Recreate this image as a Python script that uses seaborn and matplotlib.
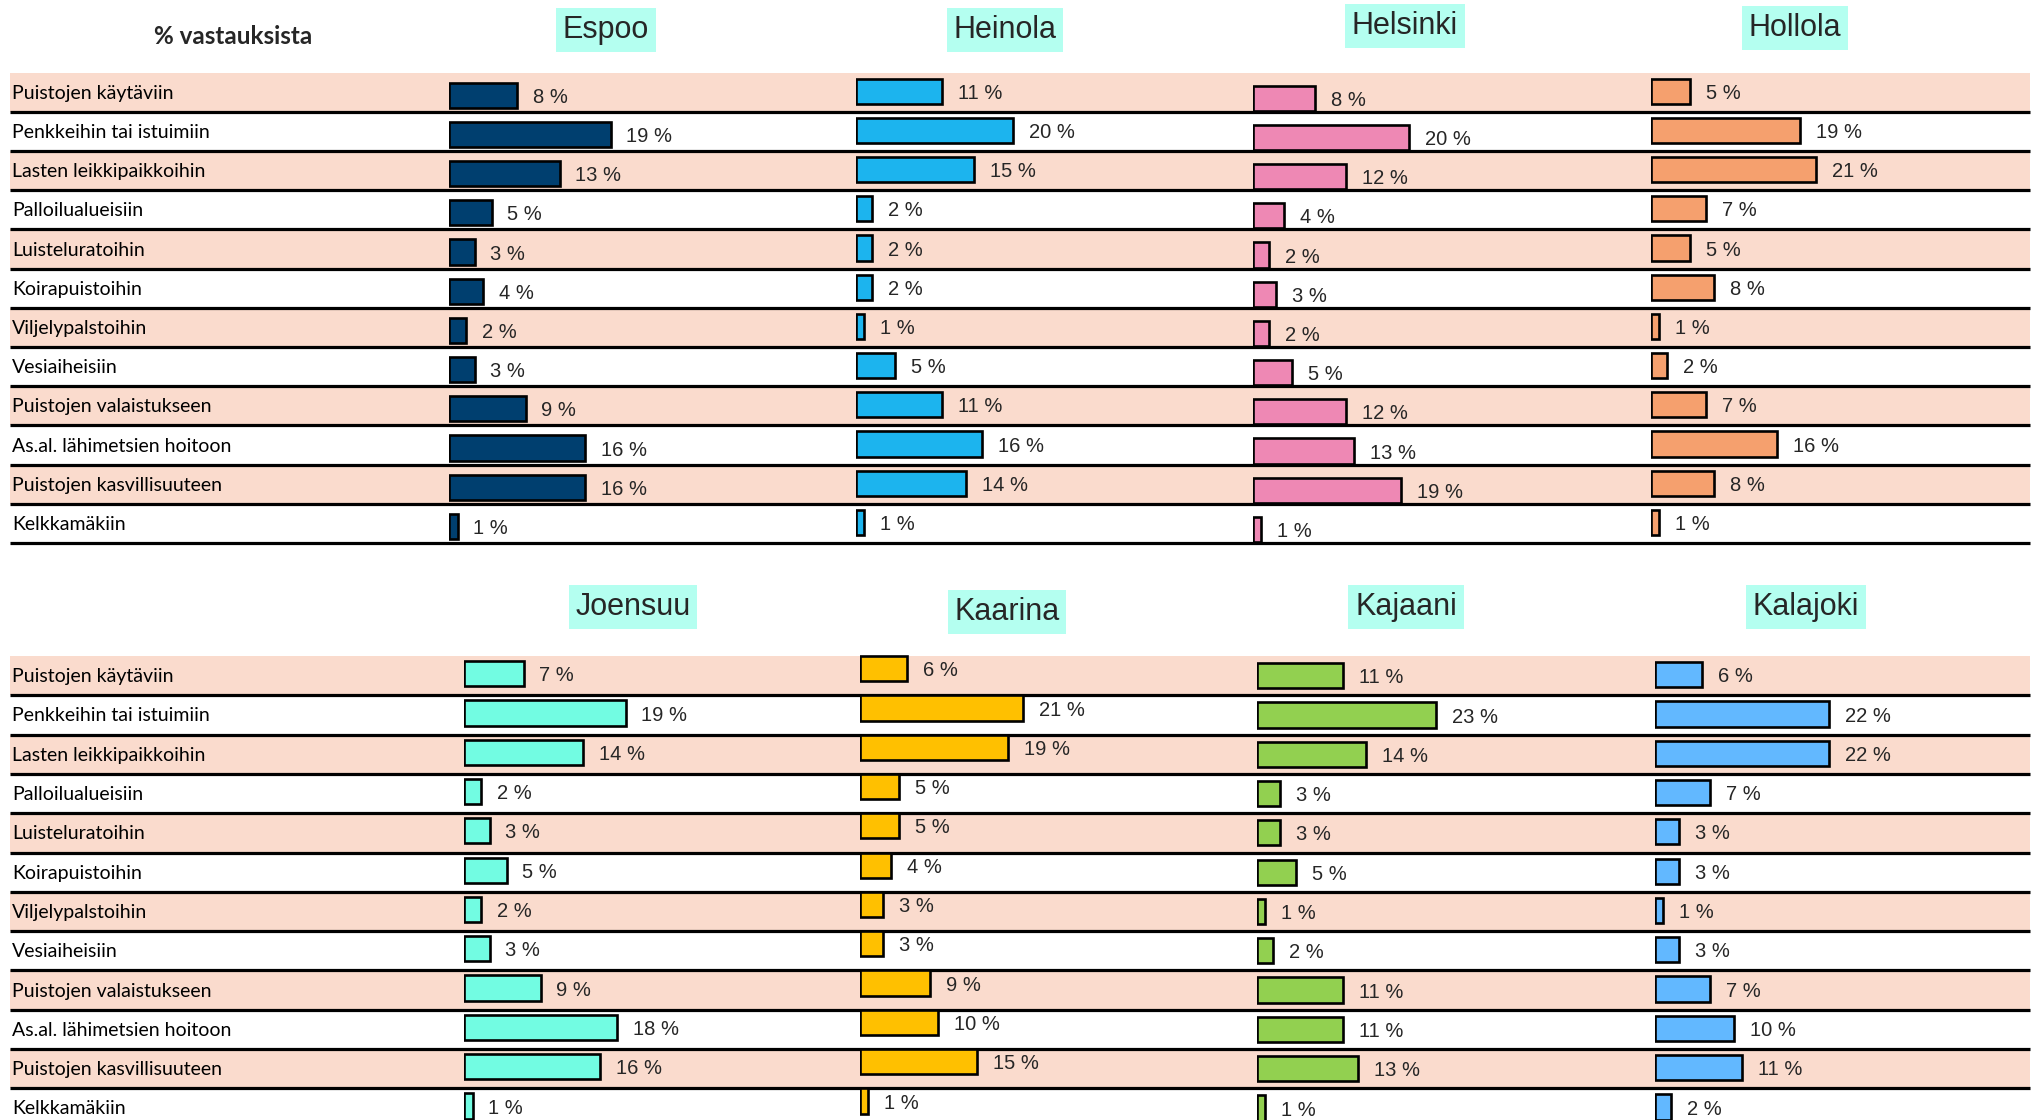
import matplotlib
matplotlib.use("Agg")
import matplotlib.pyplot as plt
from matplotlib.patches import Rectangle
import seaborn as sns
import pandas as pd

# Survey answers: where park investments should go (% of responses)
categories = [
    "Puistojen käytäviin",
    "Penkkeihin tai istuimiin",
    "Lasten leikkipaikkoihin",
    "Palloilualueisiin",
    "Luisteluratoihin",
    "Koirapuistoihin",
    "Viljelypalstoihin",
    "Vesiaiheisiin",
    "Puistojen valaistukseen",
    "As.al. lähimetsien hoitoon",
    "Puistojen kasvillisuuteen",
    "Kelkkamäkiin",
]

espoo = [8, 19, 13, 5, 3, 4, 2, 3, 9, 16, 16, 1]
heinola = [11, 20, 15, 2, 2, 2, 1, 5, 11, 16, 14, 1]
helsinki = [8, 20, 12, 4, 2, 3, 2, 5, 12, 13, 19, 1]
hollola = [5, 19, 21, 7, 5, 8, 1, 2, 7, 16, 8, 1]
joensuu = [7, 19, 14, 2, 3, 5, 2, 3, 9, 18, 16, 1]
kaarina = [6, 21, 19, 5, 5, 4, 3, 3, 9, 10, 15, 1]
kajaani = [11, 23, 14, 3, 3, 5, 1, 2, 11, 11, 13, 1]
kalajoki = [6, 22, 22, 7, 3, 3, 1, 3, 7, 10, 11, 2]

header_label = "% vastauksista"

sns.set_theme(style="white")
plt.rcParams["font.family"] = ["Liberation Sans", "DejaVu Sans"]

W, H = 2034, 1120
fig = plt.figure(figsize=(W / 100, H / 100), dpi=100)
fig.patch.set_facecolor("white")

# Background layer in pixel units for row bands, separators and row labels
bg = fig.add_axes([0, 0, 1, 1])
bg.set_xlim(0, W)
bg.set_ylim(H, 0)
bg.axis("off")

BAND = "#FADBCD"
TITLE_BOX = "#B4FFF0"
ROW_FONT = ["Lato", "DejaVu Sans"]
VAL_FONT = ["Liberation Sans", "DejaVu Sans"]


def draw_rows(top, row_h):
    for i, cat in enumerate(categories):
        y0 = top + i * row_h
        if i % 2 == 0:
            bg.add_patch(Rectangle((10, y0), 2020, row_h, color=BAND, lw=0, zorder=0))
        bg.plot([10, 2030], [y0 + row_h, y0 + row_h], color="black", lw=2.3,
                solid_capstyle="butt", zorder=1)
        bg.text(12, y0 + row_h / 2 + 1, cat, va="center", ha="left",
                fontsize=14, family=ROW_FONT, color="black", zorder=2)


TOP1, ROW1 = 72.6, 39.2
TOP2, ROW2 = 656.0, 39.3
draw_rows(TOP1, ROW1)
draw_rows(TOP2, ROW2)

bg.text(233, 37, header_label, ha="center", va="center", fontsize=17.5,
        fontweight="bold", family=ROW_FONT)

# name, values, colour, bar start x, px per %, vertical shift, title centre
panels = [
    ("Espoo", espoo, "#003F6F", 449, 8.5, 3, (606, 30), TOP1, ROW1),
    ("Heinola", heinola, "#1CB4EE", 856, 7.85, -1, (1005, 30), TOP1, ROW1),
    ("Helsinki", helsinki, "#EE88B4", 1253, 7.78, 6, (1405, 26), TOP1, ROW1),
    ("Hollola", hollola, "#F5A06E", 1651, 7.85, -1, (1795, 28), TOP1, ROW1),
    ("Joensuu", joensuu, "#72FCE2", 464, 8.5, -2, (633, 607), TOP2, ROW2),
    ("Kaarina", kaarina, "#FFC000", 860, 7.78, -7, (1007, 612), TOP2, ROW2),
    ("Kajaani", kajaani, "#92D050", 1257, 7.78, 0, (1406, 607), TOP2, ROW2),
    ("Kalajoki", kalajoki, "#62B8FF", 1655, 7.9, -1, (1806, 607), TOP2, ROW2),
]

AX_W = 320
for name, vals, col, x0, scale, dy, (tx, ty), top, row_h in panels:
    y_top = top + dy
    h = 12 * row_h
    ax = fig.add_axes([x0 / W, 1 - (y_top + h) / H, AX_W / W, h / H])
    df = pd.DataFrame({"kohde": categories, "osuus": vals})
    sns.barplot(data=df, x="osuus", y="kohde", orient="h", color=col,
                saturation=1, edgecolor="black", linewidth=1.9, width=0.64,
                ax=ax)
    ax.set_xlim(0, AX_W / scale)
    ax.set_ylim(11.5, -0.5)
    ax.axis("off")
    for i, v in enumerate(vals):
        ax.annotate(f"{v} %", xy=(v, i), xytext=(11.5, -1.5),
                    textcoords="offset points", ha="left", va="center",
                    fontsize=14.5, family=VAL_FONT)
    bg.text(tx, ty, name, ha="center", va="center", fontsize=22,
            family=VAL_FONT,
            bbox=dict(boxstyle="square,pad=0.22", fc=TITLE_BOX, ec="none"))

fig.savefig("out.png", dpi=100, facecolor="white")
